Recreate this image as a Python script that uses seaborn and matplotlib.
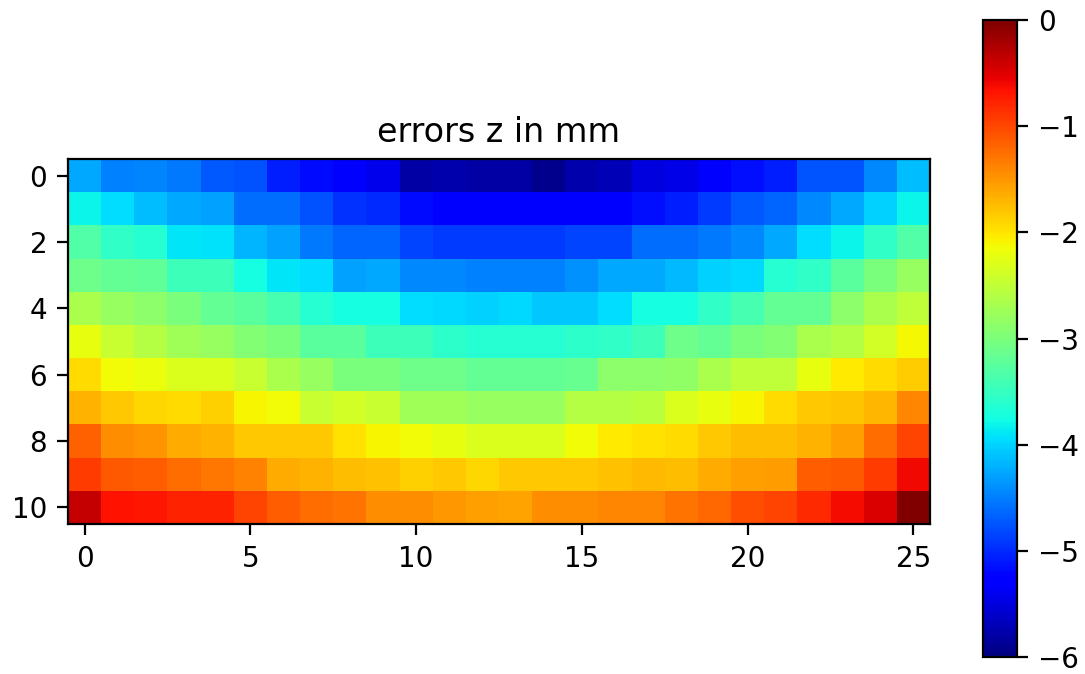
import numpy as np
import matplotlib
matplotlib.use("Agg")
import matplotlib.pyplot as plt
import seaborn as sns

# Z-error grid in mm, one list per row (row 0 at the top), 26 columns each
row_0 = [-4.25, -4.49, -4.47, -4.54, -4.72, -4.78, -5.07, -5.20, -5.30, -5.42, -5.79, -5.76, -5.80,
         -5.80, -5.92, -5.76, -5.70, -5.50, -5.44, -5.30, -5.16, -5.07, -4.75, -4.75, -4.43, -4.13]
row_1 = [-3.80, -3.96, -4.13, -4.25, -4.31, -4.60, -4.60, -4.78, -4.96, -5.01, -5.19, -5.30, -5.30,
         -5.30, -5.32, -5.32, -5.30, -5.16, -5.07, -4.90, -4.72, -4.66, -4.43, -4.25, -4.01, -3.80]
row_2 = [-3.32, -3.54, -3.61, -3.90, -3.93, -4.19, -4.31, -4.54, -4.66, -4.66, -4.84, -4.90, -4.90,
         -4.90, -4.92, -4.84, -4.84, -4.60, -4.60, -4.54, -4.43, -4.25, -3.96, -3.80, -3.54, -3.32]
row_3 = [-3.10, -3.17, -3.20, -3.46, -3.46, -3.75, -3.90, -3.96, -4.31, -4.25, -4.43, -4.43, -4.49,
         -4.49, -4.49, -4.40, -4.25, -4.25, -4.15, -4.03, -3.98, -3.61, -3.54, -3.24, -3.02, -2.81]
row_4 = [-2.66, -2.81, -2.88, -3.02, -3.17, -3.24, -3.39, -3.61, -3.75, -3.75, -3.96, -3.98, -4.01,
         -3.98, -4.07, -4.07, -3.96, -3.75, -3.75, -3.54, -3.39, -3.17, -3.17, -2.88, -2.66, -2.51]
row_5 = [-2.22, -2.44, -2.59, -2.73, -2.81, -2.95, -3.02, -3.24, -3.24, -3.46, -3.46, -3.58, -3.61,
         -3.61, -3.61, -3.57, -3.54, -3.46, -3.10, -3.17, -3.02, -2.95, -2.66, -2.59, -2.37, -2.12]
row_6 = [-1.94, -2.15, -2.20, -2.30, -2.30, -2.44, -2.66, -2.81, -3.02, -3.02, -3.10, -3.10, -3.17,
         -3.17, -3.17, -3.15, -2.88, -2.88, -2.85, -2.66, -2.51, -2.51, -2.22, -2.03, -1.94, -1.84]
row_7 = [-1.68, -1.81, -1.90, -1.94, -1.87, -2.09, -2.15, -2.44, -2.37, -2.44, -2.73, -2.73, -2.81,
         -2.81, -2.81, -2.59, -2.59, -2.55, -2.30, -2.22, -2.10, -1.94, -1.81, -1.79, -1.71, -1.40]
row_8 = [-1.17, -1.43, -1.49, -1.62, -1.68, -1.81, -1.81, -1.81, -1.97, -2.09, -2.15, -2.22, -2.30,
         -2.30, -2.30, -2.15, -2.03, -1.98, -1.94, -1.81, -1.75, -1.75, -1.68, -1.56, -1.24, -0.98]
row_9 = [-0.92, -1.11, -1.14, -1.24, -1.30, -1.37, -1.62, -1.68, -1.75, -1.78, -1.87, -1.81, -1.90,
         -1.81, -1.81, -1.81, -1.78, -1.72, -1.75, -1.62, -1.56, -1.53, -1.14, -1.11, -0.92, -0.60]
row_10 = [-0.37, -0.67, -0.70, -0.76, -0.76, -0.98, -1.14, -1.24, -1.27, -1.43, -1.43, -1.52, -1.56,
          -1.59, -1.43, -1.43, -1.40, -1.40, -1.27, -1.20, -1.05, -0.98, -0.80, -0.62, -0.48, 0.00]

x_ticks = [0, 5, 10, 15, 20, 25]
y_ticks = [0, 2, 4, 6, 8, 10]
cbar_ticks = [0, -1, -2, -3, -4, -5, -6]

errors = np.array([row_0, row_1, row_2, row_3, row_4, row_5,
                   row_6, row_7, row_8, row_9, row_10])

DPI = 200
fig = plt.figure(figsize=(1085 / DPI, 674 / DPI), dpi=DPI)
ax = fig.add_axes([0.06267, 0.22255, 0.79447, 0.54154])
cax = fig.add_axes([0.90599, 0.02522, 0.03134, 0.94510])

sns.heatmap(errors, ax=ax, cbar_ax=cax, cmap="jet", vmin=-6, vmax=0,
            square=True, linewidths=0, xticklabels=False, yticklabels=False)

# imshow-style axes: integer ticks at cell centres, full black frame
ax.set_xticks(np.array(x_ticks) + 0.5)
ax.set_xticklabels([str(t) for t in x_ticks], rotation=0)
ax.set_yticks(np.array(y_ticks) + 0.5)
ax.set_yticklabels([str(t) for t in y_ticks], rotation=0)
ax.tick_params(axis="both", length=4, width=0.8, labelsize=10, color="black",
               labelcolor="black", pad=3.5)
for spine in ax.spines.values():
    spine.set_visible(True)
    spine.set_color("black")
    spine.set_linewidth(0.8)
ax.set_title("errors z in mm", fontsize=12, pad=6)
ax.set_position([0.06267, 0.22255, 0.79447, 0.54154])

cb = ax.collections[0].colorbar
cb.set_ticks(cbar_ticks)
cb.outline.set_linewidth(0.8)
cb.outline.set_edgecolor("black")
cax.tick_params(length=4, width=0.8, labelsize=10, color="black", labelcolor="black")

fig.savefig("out.png", dpi=DPI)
